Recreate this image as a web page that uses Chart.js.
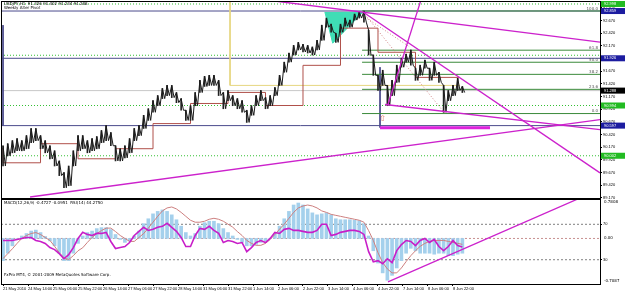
<!DOCTYPE html>
<html lang="en">
<head>
<title>USDJPY H1</title>
<script src="https://cdn.jsdelivr.net/npm/chart.js@4.4.0/dist/chart.umd.min.js"></script>
<style>
    body { margin: 0; background: #fff; }
    canvas { position: absolute; left: 0; }
    #main { top: 0; }
    #sub { top: 198px; }
</style>
</head>
<body>
<canvas id="main" width="625" height="199"></canvas>
<canvas id="sub" width="625" height="94"></canvas>
<script>
    /* time axis: one label every 16 H1 bars, price sampled every 3 bars */
    const timeLabels = ["21 May 2010", "24 May 14:00", "25 May 06:00", "25 May 22:00", "26 May 14:00",
        "27 May 06:00", "27 May 22:00", "28 May 14:00", "31 May 06:00", "31 May 22:00", "1 Jun 14:00",
        "2 Jun 06:00", "2 Jun 22:00", "3 Jun 14:00", "4 Jun 06:00", "4 Jun 22:00", "7 Jun 14:00",
        "8 Jun 06:00", "8 Jun 22:00"];
    const labelEvery = 16;
    const sampleEvery = 3;

    const priceHigh = [90.20, 90.24, 90.30, 90.34, 90.30, 90.40, 90.54, 90.54, 90.40, 90.30,
        90.20, 90.10, 89.90, 89.67, 89.80, 90.10, 90.40, 90.40, 90.30, 90.34,
        90.38, 90.50, 90.60, 90.46, 90.20, 90.14, 90.20, 90.34, 90.54, 90.60,
        90.80, 90.93, 91.09, 91.19, 91.33, 91.39, 91.39, 91.25, 91.13, 90.90,
        90.99, 91.25, 91.49, 91.57, 91.59, 91.59, 91.49, 91.25, 91.29, 91.19,
        91.13, 91.09, 90.90, 90.99, 91.19, 91.29, 91.15, 91.19, 91.35, 91.59,
        91.85, 92.03, 92.18, 92.24, 92.20, 92.18, 92.15, 92.28, 92.58, 92.72,
        92.60, 92.42, 92.60, 92.72, 92.68, 92.80, 92.84, 92.86, 92.48, 91.99,
        91.59, 91.69, 91.39, 91.49, 91.79, 91.93, 92.01, 92.09, 91.73, 91.79,
        91.89, 91.73, 91.85, 91.65, 91.39, 91.29, 91.39, 91.53, 91.37];
    const priceLow = [89.80, 90.00, 90.06, 90.10, 90.10, 90.14, 90.26, 90.30, 90.14, 90.06,
        89.94, 89.80, 89.61, 89.37, 89.41, 89.80, 90.10, 90.14, 90.06, 90.10,
        90.14, 90.26, 90.30, 90.20, 89.90, 89.90, 89.96, 90.06, 90.30, 90.40,
        90.54, 90.70, 90.86, 90.99, 91.13, 91.19, 91.15, 91.05, 90.90, 90.70,
        90.70, 90.99, 91.25, 91.37, 91.39, 91.39, 91.19, 90.93, 91.09, 90.99,
        90.93, 90.86, 90.66, 90.80, 90.99, 91.09, 90.93, 90.99, 91.19, 91.39,
        91.65, 91.85, 91.99, 92.09, 92.05, 92.03, 91.99, 92.09, 92.28, 92.54,
        92.44, 92.24, 92.44, 92.56, 92.54, 92.68, 92.72, 92.64, 91.99, 91.59,
        91.29, 91.39, 90.99, 91.19, 91.45, 91.75, 91.85, 91.79, 91.49, 91.59,
        91.73, 91.49, 91.59, 91.45, 90.86, 91.09, 91.19, 91.29, 91.25];
    const macdHist = [-0.45, -0.30, -0.15, 0.00, 0.05, 0.10, 0.15, 0.17, 0.12, 0.04,
        -0.05, -0.15, -0.30, -0.45, -0.45, -0.30, -0.10, 0.05, 0.12, 0.15,
        0.20, 0.22, 0.22, 0.18, 0.08, -0.02, -0.08, -0.05, 0.05, 0.15,
        0.30, 0.40, 0.50, 0.55, 0.58, 0.55, 0.48, 0.38, 0.25, 0.12,
        0.05, 0.10, 0.25, 0.32, 0.35, 0.35, 0.30, 0.20, 0.12, 0.05,
        -0.02, -0.08, -0.15, -0.15, -0.12, -0.08, -0.05, 0.00, 0.10, 0.25,
        0.40, 0.55, 0.68, 0.72, 0.68, 0.60, 0.52, 0.48, 0.50, 0.52,
        0.48, 0.40, 0.38, 0.38, 0.38, 0.37, 0.36, 0.30, 0.05, -0.25,
        -0.50, -0.70, -0.85, -0.75, -0.60, -0.45, -0.30, -0.20, -0.25, -0.30,
        -0.30, -0.30, -0.32, -0.30, -0.30, -0.35, -0.35, -0.32, -0.30];
    const macdSignal = [-0.41, -0.31, -0.21, -0.10, 0.00, 0.06, 0.10, 0.12, 0.08, 0.02,
        -0.04, -0.16, -0.29, -0.39, -0.43, -0.35, -0.25, -0.19, -0.08, 0.02,
        0.10, 0.16, 0.21, 0.21, 0.14, 0.06, 0.00, -0.06, -0.06, 0.02,
        0.10, 0.21, 0.33, 0.45, 0.56, 0.62, 0.64, 0.60, 0.53, 0.45,
        0.37, 0.33, 0.33, 0.35, 0.39, 0.41, 0.39, 0.35, 0.29, 0.23,
        0.14, 0.06, -0.04, -0.10, -0.14, -0.14, -0.10, -0.02, 0.08, 0.19,
        0.29, 0.41, 0.53, 0.62, 0.66, 0.68, 0.66, 0.62, 0.56, 0.53,
        0.49, 0.47, 0.45, 0.43, 0.41, 0.39, 0.37, 0.33, 0.16, -0.04,
        -0.29, -0.49, -0.62, -0.70, -0.70, -0.60, -0.47, -0.35, -0.25, -0.16,
        -0.10, -0.06, -0.04, -0.04, -0.04, -0.06, -0.08, -0.10, -0.12];
    const rsiValues = [51.7, 51.7, 51.7, 52.9, 54.0, 55.1, 55.1, 51.7, 50.6, 48.3,
        43.7, 41.4, 36.9, 31.1, 35.7, 43.7, 54.0, 60.9, 58.6, 57.4,
        59.7, 59.7, 60.9, 50.6, 42.6, 43.7, 44.9, 49.4, 57.4, 62.0,
        66.6, 63.1, 64.3, 66.6, 67.7, 71.1, 66.6, 62.0, 55.1, 44.9,
        44.9, 57.4, 65.4, 64.3, 67.7, 63.1, 59.7, 49.4, 51.7, 50.6,
        48.3, 49.4, 39.1, 43.7, 49.4, 51.7, 49.4, 54.0, 60.9, 59.7,
        64.3, 65.4, 63.1, 63.1, 62.0, 60.9, 60.9, 63.1, 70.0, 70.0,
        57.4, 58.6, 60.9, 62.0, 63.1, 63.1, 62.0, 58.6, 39.1, 27.7,
        28.9, 25.4, 31.1, 26.6, 40.3, 47.1, 51.7, 50.6, 46.0, 51.7,
        54.0, 49.4, 52.9, 44.9, 40.3, 44.9, 51.7, 46.0, 44.3];

    const priceTicks = [89.17, 89.42, 89.67, 89.92, 90.17, 90.42, 90.67, 90.92, 91.17, 91.42,
        91.67, 91.92, 92.17, 92.42, 92.67, 92.92];
    const pivotLevels = [92.998, 91.986, 90.994, 90.002];
    const rangeLevels = [92.859, 91.926, 90.597];
    const bidPrice = 91.288;
    const fibLevels = [92.86, 92.086, 91.848, 91.609, 91.313, 90.835];
    const fibNames = ["100.0", "61.8", "50.0", "38.2", "23.6", "0.0"];
    const fibFrom = 229.8;
    const dayStarts = [-1.3, 0, 24, 48, 72, 96, 120, 144, 168, 192, 216, 240, 264, 292];
    const dayLevels = [90.141, 89.863, 90.240, 89.942, 90.141, 90.637, 91.034, 91.252, 90.994,
        91.787, 92.521, 92.045, 91.549, 91.549];
    const weekLine = [[145.3, 93.2], [145.3, 91.391], [292.5, 91.391]];
    const trendLines = [
        [[174, 93.057], [382.1, 92.244]],
        [[230.4, 92.839], [382.1, 89.664]],
        [[246.4, 91.014], [267.5, 93.077]],
        [[17.3, 89.188], [382.1, 90.716]],
        [[244.5, 91.014], [382.1, 90.518]]
    ];
    const supportBar = [[241.3, 90.557], [311.7, 90.557]];
    const fanLines = [
        [[230.4, 92.839], [282.9, 90.835]],
        [[231.7, 92.74], [260.5, 92.145]]
    ];
    const wedge = [[206, 92.839], [211, 92.224], [230.4, 92.839]];
    const rangeEdges = [
        [[0, 92.581], [0, 90.597]],
        [[241.3, 91.75], [241.3, 90.557]]
    ];
    const arrowMark = [243, 90.72];
    const rsiLevels = [70, 30];
    const rsiTrend = [[246.4, 4.9], [369.3, 99.7]];

    const xMin = -1.3, xMax = 382.1;
    const font4 = {family: '"Liberation Sans", Arial', size: 4};

    Chart.defaults.animation = false;
    Chart.defaults.elements.point.radius = 0;
    Chart.defaults.elements.line.borderWidth = 1;
    Chart.defaults.elements.line.tension = 0;
    Chart.defaults.plugins.legend.display = false;
    Chart.defaults.plugins.tooltip.enabled = false;

    const pts = arr => arr.map(p => ({x: p[0], y: p[1]}));
    const hLine = (y, x0 = xMin, x1 = xMax) => [{x: x0, y: y}, {x: x1, y: y}];
    const line = (data, color, extra) => Object.assign({type: 'line', data: data, borderColor: color,
        backgroundColor: color, fill: false}, extra || {});

    /* draws the black frame and the texts MT4 puts on the panel */
    function panelPlugin(id, notes, boxes) {
        return {
            id: id,
            afterDraw(chart) {
                const {ctx, chartArea: a} = chart;
                ctx.save();
                ctx.strokeStyle = '#000';
                ctx.lineWidth = 1;
                ctx.strokeRect(a.left + 0.5, a.top + 0.5, a.right - a.left, a.bottom - a.top);
                ctx.textBaseline = 'middle';
                notes.forEach(n => {
                    ctx.font = (n.size || 4) + 'px "DejaVu Sans", "Liberation Sans", Arial';
                    ctx.fillStyle = n.color || '#000';
                    ctx.textAlign = n.align || 'left';
                    const y = n.axis ? chart.scales[n.axis].getPixelForValue(n.value) + (n.dy || 0) : n.y;
                    const x = n.xv !== undefined ? chart.scales.x.getPixelForValue(n.xv) : n.x;
                    ctx.fillText(n.text, x, y);
                });
                ctx.font = '4px "Liberation Sans", Arial';
                ctx.textAlign = 'left';
                boxes.forEach(b => {
                    const y = chart.scales.y.getPixelForValue(b.value);
                    ctx.fillStyle = b.color;
                    ctx.fillRect(a.right + 1, y - 3, 24, 6);
                    ctx.fillStyle = '#fff';
                    ctx.fillText(b.value.toFixed(3), a.right + 4, y);
                });
                ctx.restore();
            }
        };
    }

    const timeAxis = {type: 'linear', min: xMin, max: xMax, offset: false,
        grid: {offset: false, drawOnChartArea: false, tickLength: 2, color: '#000'}};

    /* main price window: bars plus a high/low zigzag so the dense H1 bars read as one band */
    const zigzag = [];
    priceHigh.forEach((h, k) => {
        zigzag.push({x: k * sampleEvery, y: h});
        zigzag.push({x: k * sampleEvery + 1.5, y: priceLow[k]});
    });

    const mainSets = [];
    trendLines.forEach(t => mainSets.push(line(pts(t), '#CC22CC', {borderWidth: 1.3, order: 0})));
    mainSets.push(line(pts(supportBar), '#DD22DD', {borderWidth: 3, order: 0}));
    mainSets.push(line(zigzag, '#1A1A1A', {borderWidth: 1, order: 1}));
    mainSets.push({
        type: 'bar', order: 1, grouped: false, barThickness: 1, backgroundColor: '#222',
        data: priceHigh.map((h, k) => ({x: k * sampleEvery, y: [priceLow[k], h]}))
    });
    fanLines.forEach(f => mainSets.push(line(pts(f), '#D08080', {borderDash: [1, 2], order: 2})));
    mainSets.push(line(dayStarts.map((d, k) => ({x: d, y: dayLevels[k]})), '#B0504A', {stepped: true, order: 3}));
    mainSets.push(line(pts(weekLine), '#E6D680', {order: 4}));
    fibLevels.forEach(f => mainSets.push(line(hLine(f, fibFrom), '#3A8A3A', {order: 4})));
    rangeLevels.forEach(r => mainSets.push(line(hLine(r), '#4B4B8C', {order: 5})));
    rangeEdges.forEach(r => mainSets.push(line(pts(r), '#4B4B8C', {order: 5})));
    mainSets.push(line(hLine(bidPrice), '#C8C8C8', {order: 6}));
    pivotLevels.forEach(p => mainSets.push(line(hLine(p), '#33C033', {borderDash: [1, 2], order: 6})));
    mainSets.push(line(pts(wedge), '#3FDDB5', {fill: {target: {value: wedge[0][1]}}, order: 7}));

    const mainNotes = [
        {text: 'USDJPY,H1  91.326 91.402 91.234 91.288', x: 4, y: 4},
        {text: 'Weekly Alter Pivot', x: 4, y: 8},
        {text: '\u21e7', xv: arrowMark[0], axis: 'y', value: arrowMark[1], size: 8, color: '#E07A6A', align: 'center'}
    ];
    fibLevels.forEach((f, k) => mainNotes.push({text: fibNames[k], axis: 'y', value: f, dy: -2.5,
        x: 598, align: 'right', color: '#555'}));
    const mainBoxes = [
        {value: pivotLevels[0], color: '#22BB22'},
        {value: rangeLevels[0], color: '#1C1CA0'},
        {value: rangeLevels[1], color: '#1C1CA0'},
        {value: bidPrice, color: '#000'},
        {value: pivotLevels[2], color: '#22BB22'},
        {value: rangeLevels[2], color: '#1C1CA0'},
        {value: pivotLevels[3], color: '#22BB22'}
    ];

    const mainChart = new Chart(document.getElementById('main'), {
        type: 'line',
        data: {datasets: mainSets},
        options: {
            responsive: false,
            devicePixelRatio: 1,
            layout: {autoPadding: false, padding: {left: 1, top: 1, right: 0, bottom: 1}},
            scales: {
                x: Object.assign({}, timeAxis, {display: false}),
                y: {
                    position: 'right', min: 89.168, max: 93.057,
                    afterBuildTicks: s => { s.ticks = priceTicks.map(v => ({value: v})); },
                    afterFit: s => { s.width = 25; s.paddingTop = 0; s.paddingBottom = 0; },
                    ticks: {font: font4, color: '#000', padding: 1, autoSkip: false,
                        callback: v => v.toFixed(3)},
                    grid: {drawOnChartArea: false, tickLength: 2, color: '#000'},
                    border: {color: '#000'}
                }
            }
        },
        plugins: [panelPlugin('mainPanel', mainNotes, mainBoxes)]
    });

    /* MACD + RSI window */
    const subSets = [
        line(rsiValues.map((v, k) => ({x: k * sampleEvery, y: v})), '#C81EC8', {borderWidth: 1.6, yAxisID: 'y', order: 0}),
        line(pts(rsiTrend), '#CC22CC', {borderWidth: 1.3, yAxisID: 'y', order: 0}),
        line(macdSignal.map((v, k) => ({x: k * sampleEvery, y: v})), '#CD7F7F', {yAxisID: 'macd', order: 1}),
        {
            type: 'bar', yAxisID: 'macd', order: 2, grouped: false, barThickness: 3,
            backgroundColor: '#A4D0EC',
            data: macdHist.map((v, k) => ({x: k * sampleEvery, y: v}))
        },
        line(hLine(0), '#C89090', {yAxisID: 'macd', borderDash: [2, 2], order: 3})
    ];
    rsiLevels.forEach(r => subSets.push(line(hLine(r), '#808080', {yAxisID: 'y', borderDash: [2, 2], order: 3})));

    const subNotes = [
        {text: 'MACD(12,26,9) -0.4727 -0.0951  RSI(14) 44.2750', x: 4, y: 5},
        {text: 'FxPro MT4, \u00a9 2001-2009 MetaQuotes Software Corp.', x: 4, y: 77},
        {text: '0.7808', x: 604, y: 4},
        {text: '0.00', axis: 'macd', value: 0, x: 604},
        {text: '-0.7087', x: 604, y: 83}
    ];

    const subChart = new Chart(document.getElementById('sub'), {
        type: 'line',
        data: {datasets: subSets},
        options: {
            responsive: false,
            devicePixelRatio: 1,
            layout: {autoPadding: false, padding: {left: 1, top: 1, right: 0, bottom: 0}},
            scales: {
                x: Object.assign({}, timeAxis, {
                    afterBuildTicks: s => { s.ticks = timeLabels.map((t, k) => ({value: k * labelEvery})); },
                    afterFit: s => { s.height = 8; s.paddingLeft = 0; s.paddingRight = 0; },
                    ticks: {font: font4, color: '#000', padding: 0, align: 'start', autoSkip: false,
                        maxRotation: 0, callback: (v, k) => timeLabels[k]},
                    border: {color: '#000'}
                }),
                y: {
                    position: 'right', min: 2.57, max: 98.57,
                    afterBuildTicks: s => { s.ticks = rsiLevels.map(v => ({value: v})); },
                    afterFit: s => { s.width = 25; s.paddingTop = 0; s.paddingBottom = 0; },
                    ticks: {font: font4, color: '#000', padding: 1, autoSkip: false},
                    grid: {drawOnChartArea: false, tickLength: 2, color: '#000'},
                    border: {color: '#000'}
                },
                macd: {position: 'right', min: -0.926, max: 0.802, display: false}
            }
        },
        plugins: [panelPlugin('subPanel', subNotes, [])]
    });
</script>
</body>
</html>
